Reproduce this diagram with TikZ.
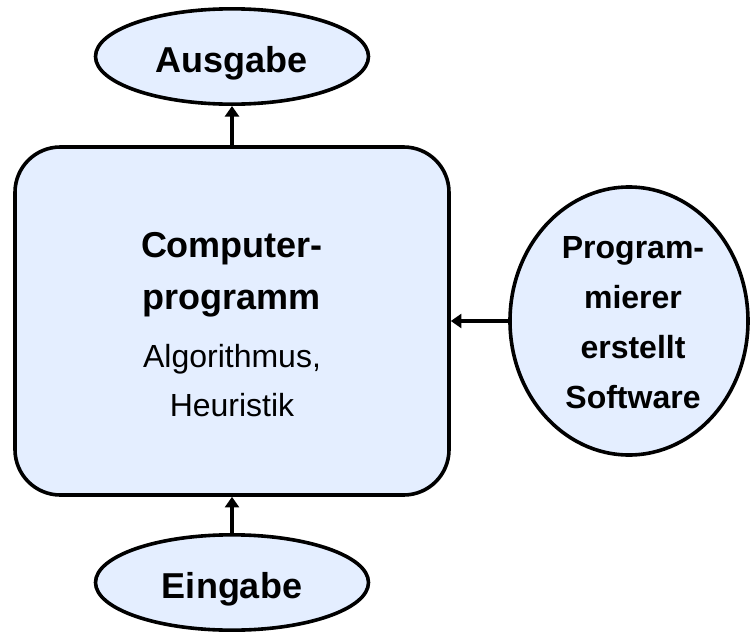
\documentclass[tikz,border=0pt]{standalone}
\usepackage{fontspec}
\setmainfont{Liberation Sans}
\usetikzlibrary{shapes.geometric,arrows.meta}
\definecolor{boxfill}{RGB}{228,238,255}
\tikzset{
  shapeline/.style={draw=black, line width=2.7pt, fill=boxfill},
  oval/.style={shapeline, ellipse, inner sep=0pt},
  arr/.style={line width=2.4pt, -{Triangle[length=8pt,width=10.5pt]}},
  bigbold/.style={font=\fontsize{27}{32}\selectfont\bfseries, anchor=base, inner sep=0pt},
  midbold/.style={font=\fontsize{24}{29}\selectfont\bfseries, anchor=base, inner sep=0pt},
  midreg/.style={font=\fontsize{24}{29}\selectfont, anchor=base, inner sep=0pt},
}
\begin{document}
\begin{tikzpicture}[x=0.75pt, y=-0.75pt]
\useasboundingbox (0,0) rectangle (751,636);

% shapes
\node[shapeline, rectangle, rounded corners=34pt, minimum width=325.5pt,
      minimum height=261pt, inner sep=0pt] (main) at (232,321) {};
\node[oval, minimum width=204.75pt, minimum height=71.5pt] (ausgabe) at (232,56.5) {};
\node[oval, minimum width=204.75pt, minimum height=71.5pt] (eingabe) at (232,582.5) {};
\node[oval, minimum width=178.5pt, minimum height=201pt] (progr) at (629,321) {};

% texts
\node[bigbold] (tAus) at (232,72) {Ausgabe};
\node[bigbold] (tEin) at (232,598) {Eingabe};
\node[bigbold] (tComp1) at (232,257) {Computer-};
\node[bigbold] (tComp2) at (232,309) {programm};
\node[midreg] (tComp3) at (232,367) {Algorithmus,};
\node[midreg] (tComp4) at (232,416) {Heuristik};
\node[midbold] (tProg1) at (633,258) {Program-};
\node[midbold] (tProg2) at (633,308) {mierer};
\node[midbold] (tProg3) at (633,358) {erstellt};
\node[midbold] (tProg4) at (633,408) {Software};

% connectors
\draw[arr] (main.north) -- (ausgabe.south);
\draw[arr] (eingabe.north) -- (main.south);
\draw[arr] (progr.west) -- (main.east);
\end{tikzpicture}
\end{document}
